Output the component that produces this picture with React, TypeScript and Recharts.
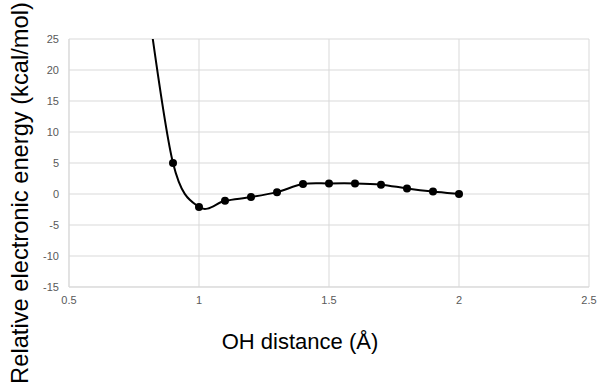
import React from 'react';
import { LineChart, Line, XAxis, YAxis, CartesianGrid, Label } from 'recharts';

// OH distance (Å) and relative electronic energy (kcal/mol)
const distances = [0.8, 0.9, 1.0, 1.1, 1.2, 1.3, 1.4, 1.5, 1.6, 1.7, 1.8, 1.9, 2.0];
const energies = [31.5, 5.0, -2.1, -1.1, -0.5, 0.3, 1.6, 1.7, 1.7, 1.5, 0.9, 0.4, 0.0];

const xTicks = [0.5, 1, 1.5, 2, 2.5];
const yTicks = [-15, -10, -5, 0, 5, 10, 15, 20, 25];

const data = distances.map((x, i) => ({ x, e: energies[i] }));

// smoothed line like a spreadsheet "smooth line" (Catmull-Rom as bezier)
const smoothCurve = (context: any) => {
  let pts: number[][] = [];
  return {
    areaStart() {},
    areaEnd() {},
    lineStart() {
      pts = [];
    },
    point(x: number, y: number) {
      pts.push([+x, +y]);
    },
    lineEnd() {
      if (!pts.length) return;
      context.moveTo(pts[0][0], pts[0][1]);
      for (let i = 0; i < pts.length - 1; i++) {
        const p0 = pts[Math.max(i - 1, 0)];
        const p1 = pts[i];
        const p2 = pts[i + 1];
        const p3 = pts[Math.min(i + 2, pts.length - 1)];
        context.bezierCurveTo(
          p1[0] + (p2[0] - p0[0]) / 6,
          p1[1] + (p2[1] - p0[1]) / 6,
          p2[0] - (p3[0] - p1[0]) / 6,
          p2[1] - (p3[1] - p1[1]) / 6,
          p2[0],
          p2[1]
        );
      }
    },
  };
};

const font = '"Liberation Sans", Arial, Helvetica, sans-serif';
const tickStyle = { fill: '#595959', fontSize: 11, fontFamily: font };

export default function App() {
  return (
    <div style={{ position: 'absolute', left: 0, top: 0, width: 601, height: 386, background: '#fff' }}>
      <LineChart width={601} height={386} data={data} margin={{ top: 39, right: 12, bottom: 69, left: 29 }}>
        <CartesianGrid stroke="#d9d9d9" strokeWidth={1} />
        <XAxis
          dataKey="x"
          type="number"
          domain={[0.5, 2.5]}
          ticks={xTicks}
          height={30}
          tickLine={false}
          tickSize={6}
          tickMargin={3}
          axisLine={{ stroke: '#d9d9d9' }}
          tick={tickStyle}
        >
          <Label
            content={() => (
              <text x={300} y={349} textAnchor="middle" fill="#000" fontSize={22} fontFamily={font}>
                OH distance (Å)
              </text>
            )}
          />
        </XAxis>
        <YAxis
          type="number"
          domain={[-15, 25]}
          ticks={yTicks}
          allowDataOverflow
          width={40}
          tickLine={false}
          tickSize={6}
          tickMargin={4}
          axisLine={{ stroke: '#d9d9d9' }}
          tick={tickStyle}
        >
          <Label
            content={() => (
              <text
                x={0}
                y={0}
                transform="translate(28,193) rotate(-90)"
                textAnchor="middle"
                fill="#000"
                fontSize={23.7}
                fontFamily={font}
              >
                Relative electronic energy (kcal/mol)
              </text>
            )}
          />
        </YAxis>
        <Line
          dataKey="e"
          type={smoothCurve as any}
          stroke="#000"
          strokeWidth={2}
          dot={{ r: 4, fill: '#000', stroke: '#000', strokeWidth: 0 }}
          isAnimationActive={false}
        />
      </LineChart>
    </div>
  );
}
